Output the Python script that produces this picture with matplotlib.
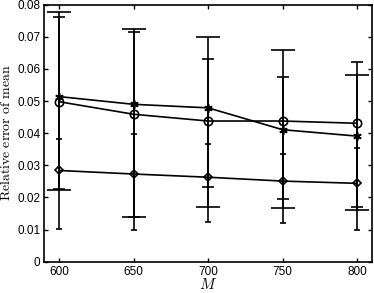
import matplotlib
matplotlib.use("Agg")
import matplotlib.pyplot as plt
import numpy as np

plt.rcParams['mathtext.fontset'] = 'cm'
plt.rcParams['font.family'] = ['Liberation Sans', 'DejaVu Sans']

M = [600, 650, 700, 750, 800]

star_mean = [0.0514, 0.0490, 0.0479, 0.0411, 0.0391]
star_upper = [0.0761, 0.0715, 0.0630, 0.0574, 0.0622]
star_lower = [0.0225, 0.0140, 0.0234, 0.0194, 0.0169]

circ_mean = [0.0498, 0.0459, 0.0438, 0.0438, 0.0431]
circ_upper = [0.0778, 0.0724, 0.0699, 0.0659, 0.0581]
circ_lower = [0.0223, 0.0138, 0.0171, 0.0167, 0.0161]

diam_mean = [0.0284, 0.0273, 0.0263, 0.0251, 0.0244]
diam_upper = [0.0383, 0.0399, 0.0366, 0.0334, 0.0355]
diam_lower = [0.0103, 0.0099, 0.0123, 0.0121, 0.0099]

yticks = [0, 0.01, 0.02, 0.03, 0.04, 0.05, 0.06, 0.07, 0.08]
ytick_labels = ['0', '0.01', '0.02', '0.03', '0.04', '0.05', '0.06', '0.07', '0.08']
xticks = [600, 650, 700, 750, 800]

fig = plt.figure(figsize=(3.74, 2.93), dpi=100)
ax = fig.add_axes([0.1185, 0.1068, 0.876, 0.877])

def err(mean, up, lo):
    m = np.array(mean)
    return [m - np.array(lo), np.array(up) - m]

lw = 1.2
ax.errorbar(M, circ_mean, yerr=err(circ_mean, circ_upper, circ_lower),
            color='black', lw=lw, elinewidth=lw, capsize=8.6, capthick=lw,
            marker='o', ms=6, mfc='none', mec='black', mew=lw)
ax.errorbar(M, star_mean, yerr=err(star_mean, star_upper, star_lower),
            color='black', lw=lw, elinewidth=lw, capsize=4.3, capthick=lw,
            marker=(6, 2, 0), ms=6, mec='black', mew=lw)
ax.errorbar(M, diam_mean, yerr=err(diam_mean, diam_upper, diam_lower),
            color='black', lw=lw, elinewidth=lw, capsize=2.5, capthick=lw,
            marker='D', ms=4.5, mfc='none', mec='black', mew=lw)

ax.set_xlim(590, 810)
ax.set_ylim(0, 0.08)
ax.set_xticks(xticks)
ax.set_xticklabels([str(v) for v in xticks])
ax.set_yticks(yticks)
ax.set_yticklabels(ytick_labels)
ax.tick_params(direction='in', length=3, width=1, top=True, right=True,
               labelsize=8.5, pad=3)
for s in ax.spines.values():
    s.set_linewidth(1.2)

ax.set_xlabel(r'$M$', fontsize=11)
ax.xaxis.set_label_coords(0.5, -0.06)
ax.set_ylabel(r'$\mathrm{Relative\ error\ of\ mean}$', fontsize=10)
ax.yaxis.set_label_coords(-0.097, 0.503)

fig.savefig('out.png', dpi=100)
